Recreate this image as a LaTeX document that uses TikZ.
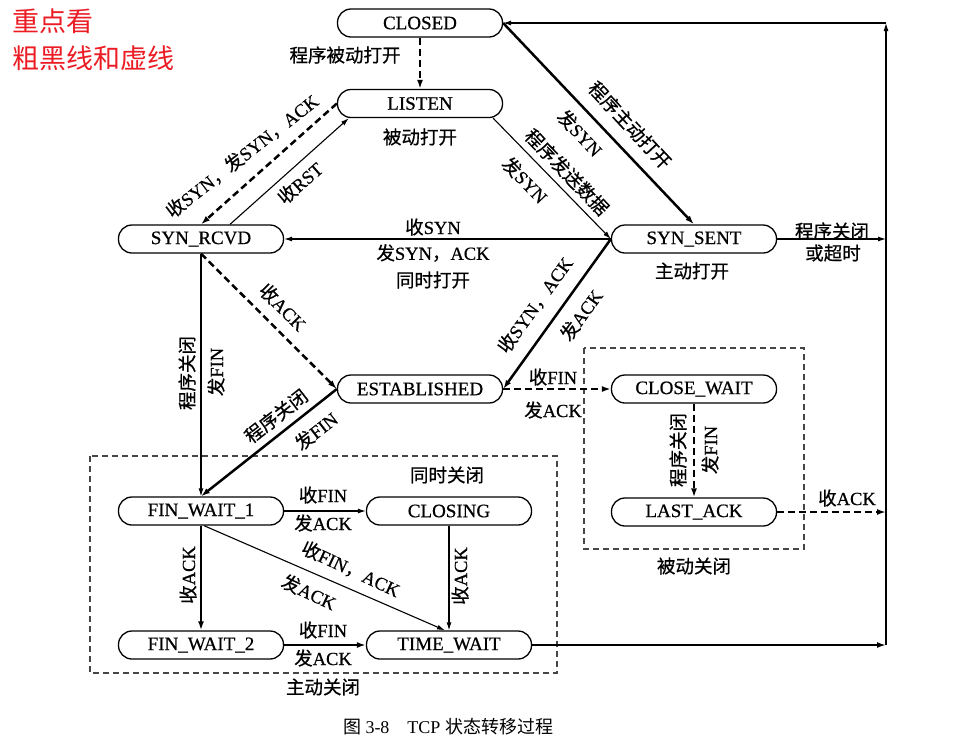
\documentclass[tikz,border=0pt]{standalone}
\usepackage{fontspec}
\setmainfont{Liberation Serif}
\newfontfamily\cjk{Noto Sans CJK SC}
\newfontfamily\cjkb{Noto Sans CJK SC}[FakeBold=0.6]
\newfontfamily\latb{Liberation Serif}[FakeBold=0.6]
\usetikzlibrary{arrows.meta}
\newcommand\zhs[1]{{\cjkb #1}}
\definecolor{redtxt}{RGB}{236,28,36}
\definecolor{boxgray}{RGB}{70,70,70}
\tikzset{
  st/.style={draw, line width=1.3pt, rounded corners=13.5pt, minimum width=165pt,
    minimum height=28pt, inner sep=0pt, font=\latb\fontsize{19}{21}\selectfont},
  thinln/.style={line width=1.1pt, -{Latex[length=8pt,width=5pt]}},
  thickln/.style={line width=2.5pt, -{Latex[length=9pt,width=6pt]}},
  dashln/.style={line width=2.5pt, dash pattern=on 7pt off 4pt, -{Latex[length=9pt,width=6pt]}},
  grp/.style={draw=boxgray, line width=1.1pt, dash pattern=on 6pt off 4pt},
  lb/.style={inner sep=0pt, font=\latb\fontsize{18.5}{21}\selectfont},
  note/.style={inner sep=0pt, anchor=west, text=redtxt, font=\cjk\fontsize{27}{29}\selectfont},
}
\begin{document}
\begin{tikzpicture}[x=1pt,y=-1pt]
\useasboundingbox (0,0) rectangle (972,737);

% notes
\node[note] (n1) at (12,21) {重点看};
\node[note] (n2) at (12,58) {粗黑线和虚线};

% states
\node[st] (closed) at (420,23) {CLOSED};
\node[st] (listen) at (420,103.5) {LISTEN};
\node[st] (rcvd) at (201,239) {SYN\_RCVD};
\node[st] (sent) at (694,239) {SYN\_SENT};
\node[st] (est) at (420,389) {ESTABLISHED};
\node[st] (cw) at (694,389) {CLOSE\_WAIT};
\node[st] (la) at (694,512) {LAST\_ACK};
\node[st] (fw1) at (201,511) {FIN\_WAIT\_1};
\node[st] (closing) at (449,511) {CLOSING};
\node[st] (fw2) at (201,645) {FIN\_WAIT\_2};
\node[st] (tw) at (449,645) {TIME\_WAIT};

% group boxes
\draw[grp] (90,456) rectangle (557,673);
\draw[grp] (584,348) rectangle (804,549);

% bus on the right
\coordinate (bust) at (886,23);
\coordinate (busb) at (886,645);
\draw[thinln] (busb) -- (bust);
\draw[thinln] (bust) -- (closed.east);

% transitions
\draw[dashln] (closed) -- (listen);
\draw[dashln] (listen.west) -- (rcvd.north);
\draw[thinln] ([xshift=29pt]rcvd.north) -- ([xshift=12pt]listen.south west);
\draw[thinln] ([xshift=-10pt]listen.south east) -- (sent.west);
\draw[thickln] (closed.east) -- (sent.north);
\draw[thinln] (sent.west) -- (rcvd.east);
\draw[dashln] (rcvd.south) -- (est.west);
\draw[thinln] (rcvd.south) -- (fw1.north);
\draw[thickln] (sent.west) -- (est.east);
\draw[dashln] (est.east) -- (cw.west);
\draw[dashln] (cw.south) -- (la.north);
\draw[dashln] (la.east) -- (la.east -| busb);
\draw[thinln] (sent.east) -- (sent.east -| busb);
\draw[thickln] (est.west) -- (fw1.north);
\draw[thinln] (fw1.east) -- (closing.west);
\draw[thickln] (fw1.south) -- (fw2.north);
\draw[thinln] ([xshift=3pt]fw1.south) -- ([xshift=-4pt]tw.north);
\draw[thinln] (closing.south) -- (tw.north);
\draw[thickln] (fw2.east) -- (tw.west);
\draw[thickln] (tw.east) -- (tw.east -| busb);

% labels
\node[lb] (a1) at (345,55) {\zhs{程序被动打开}};
\node[lb] (a2) at (420,137) {\zhs{被动打开}};
\node[lb, rotate=38] (a3) at (242,156) {\zhs{收}SYN\zhs{，发}SYN\zhs{，}ACK};
\node[lb, rotate=41] (a4) at (300,183) {\zhs{收}RST};
\node[lb, rotate=-46] (a5) at (525,180) {\zhs{发}SYN};
\node[lb, rotate=-46] (a6) at (567,172) {\zhs{程序发送数据}};
\node[lb, rotate=-47] (a7) at (580,133) {\zhs{发}SYN};
\node[lb, rotate=-47] (a8) at (630,125) {\zhs{程序主动打开}};
\node[lb] (a9) at (433,227) {\zhs{收}SYN};
\node[lb] (a10) at (433,253) {\zhs{发}SYN\zhs{，}ACK};
\node[lb] (a11) at (433,280) {\zhs{同时打开}};
\node[lb] (a12) at (692,271) {\zhs{主动打开}};
\node[lb] (a13) at (832,231) {\zhs{程序关闭}};
\node[lb] (a14) at (833,253) {\zhs{或超时}};
\node[lb, rotate=-45] (a15) at (283,307) {\zhs{收}ACK};
\node[lb, rotate=90] (a16) at (187,373) {\zhs{程序关闭}};
\node[lb, rotate=90] (a17) at (216,372) {\zhs{发}FIN};
\node[lb, rotate=54] (a18) at (535,305) {\zhs{收}SYN\zhs{，}ACK};
\node[lb, rotate=54] (a19) at (581,315) {\zhs{发}ACK};
\node[lb] (a20) at (553,377) {\zhs{收}FIN};
\node[lb] (a21) at (553,410) {\zhs{发}ACK};
\node[lb, rotate=90] (a22) at (678,450) {\zhs{程序关闭}};
\node[lb, rotate=90] (a23) at (710,450) {\zhs{发}FIN};
\node[lb] (a24) at (847,498) {\zhs{收}ACK};
\node[lb] (a25) at (694,566) {\zhs{被动关闭}};
\node[lb, rotate=38] (a26) at (276,416) {\zhs{程序关闭}};
\node[lb, rotate=38] (a27) at (316,431) {\zhs{发}FIN};
\node[lb] (a28) at (447,475) {\zhs{同时关闭}};
\node[lb] (a29) at (323,495) {\zhs{收}FIN};
\node[lb] (a30) at (323,523) {\zhs{发}ACK};
\node[lb, rotate=90] (a31) at (188,575) {\zhs{收}ACK};
\node[lb, rotate=-25] (a32) at (351,569) {\zhs{收}FIN\zhs{，}ACK};
\node[lb, rotate=-25] (a33) at (309,592) {\zhs{发}ACK};
\node[lb, rotate=90] (a34) at (460,576) {\zhs{收}ACK};
\node[lb] (a35) at (323,630) {\zhs{收}FIN};
\node[lb] (a36) at (323,658) {\zhs{发}ACK};
\node[lb] (a37) at (323,687) {\zhs{主动关闭}};

% caption
\node[inner sep=0pt, font=\fontsize{18}{20}\selectfont] (cap) at (448,727) {{\cjk 图} 3-8\hspace{1em}TCP {\cjk 状态转移过程}};
\end{tikzpicture}
\end{document}
